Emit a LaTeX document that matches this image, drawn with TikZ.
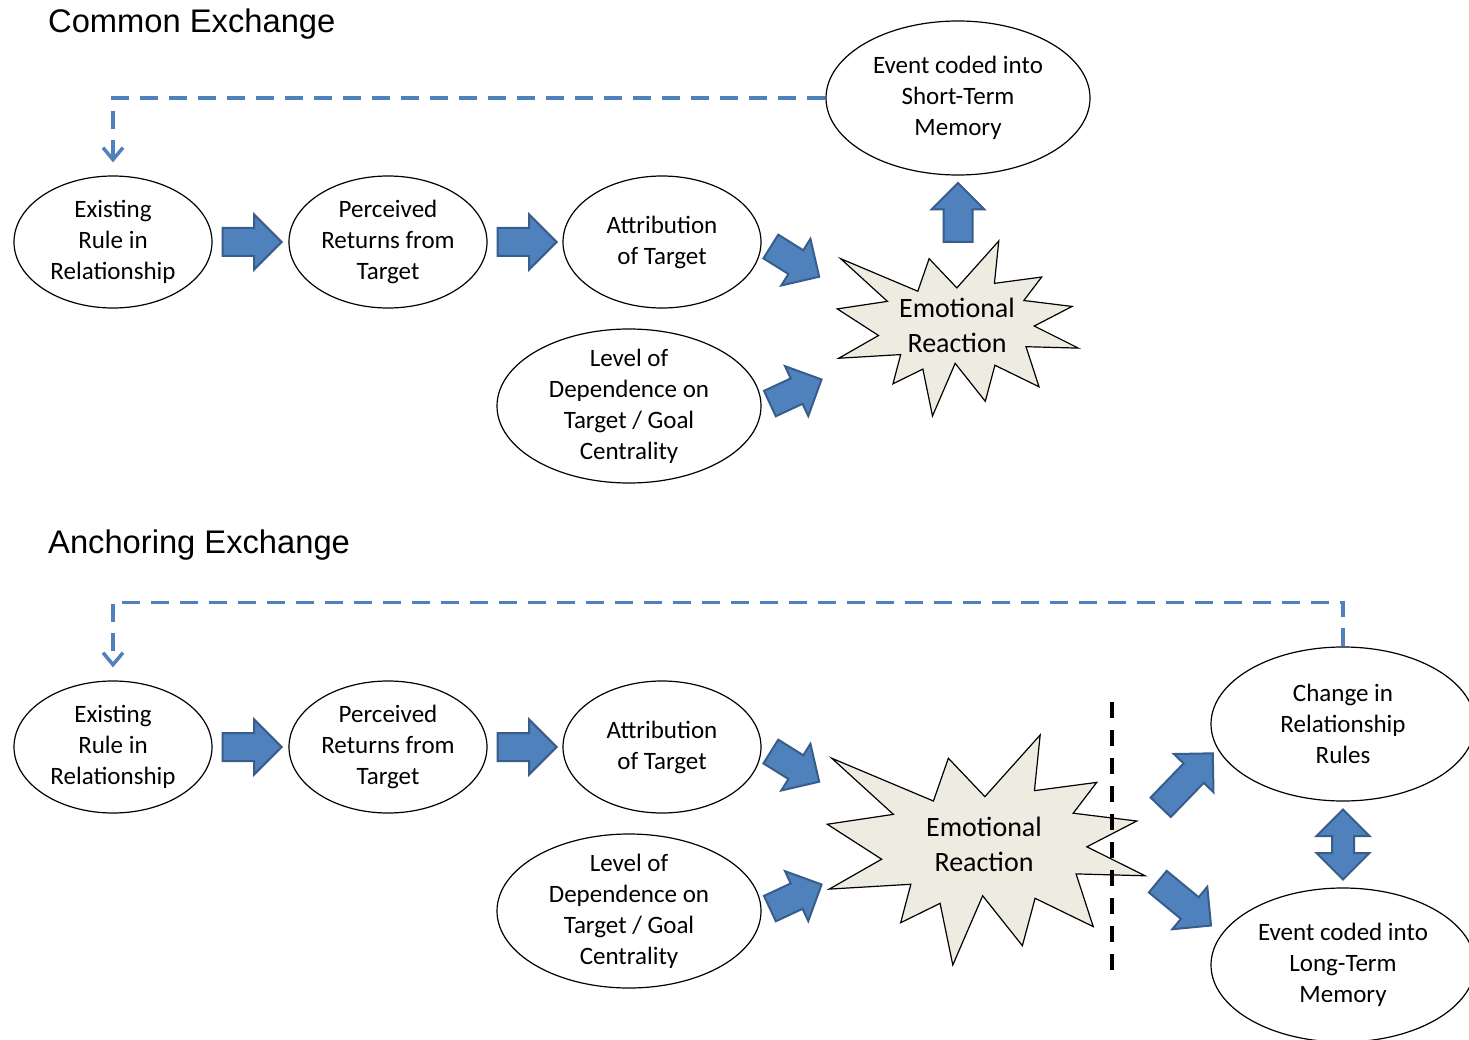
\documentclass[tikz,border=0pt]{standalone}
\usepackage{fontspec}
\setmainfont{Carlito}
\newfontfamily\headfont{Liberation Sans}
\usetikzlibrary{shapes.geometric,shapes.arrows,arrows.meta,calc}

\definecolor{arrowblue}{HTML}{4F81BD}
\definecolor{arrowedge}{HTML}{385D8A}
\definecolor{burstfill}{HTML}{EEECE1}

% outline of the explosion, in a unit box
\def\burstpts{(0.014,0.101) -- (0.334,0.287) -- (0.381,0.101) -- (0.496,0.268)
  -- (0.670,0) -- (0.652,0.242) -- (0.848,0.206) -- (0.774,0.340)
  -- (0.974,0.374) -- (0.817,0.486) -- (1,0.612) -- (0.783,0.604)
  -- (0.837,0.833) -- (0.654,0.710) -- (0.614,0.916) -- (0.489,0.699)
  -- (0.395,1) -- (0.355,0.732) -- (0.231,0.816) -- (0.263,0.649)
  -- (0.006,0.670) -- (0.171,0.540) -- (0,0.388) -- (0.208,0.345) -- cycle}

\tikzset{
  bubble/.style={ellipse, draw, line width=1.2pt, inner sep=0pt, align=center,
    minimum width=198pt, minimum height=132pt, font=\fontsize{25}{31}\selectfont},
  wide bubble/.style={bubble, minimum width=264pt, minimum height=154pt},
  blockarrow/.style={single arrow, draw=arrowedge, fill=arrowblue, line width=2pt,
    inner xsep=0pt, inner ysep=13pt, minimum height=59pt,
    single arrow head extend=13.5pt, anchor=tail},
  burst/.style={draw, fill=burstfill, line width=1.2pt, line join=miter},
  burst text/.style={align=center, font=\fontsize{28}{35}\selectfont},
  heading/.style={anchor=base west, inner sep=0pt, font=\headfont\fontsize{32.7}{38}\selectfont},
  feedback/.style={draw=arrowblue, line width=3.5pt, dash pattern=on 18pt off 11pt,
    -{Straight Barb[length=12pt,width=20pt]}, shorten >=13pt},
  cutline/.style={line width=4pt, dash pattern=on 16pt off 12pt},
}

\begin{document}
\begin{tikzpicture}[x=1pt, y=-1pt]
    \useasboundingbox (0,0) rectangle (1469,1040);

    % common exchange
    \node[heading] (title1) at (48,33) {Common Exchange};

    \node[bubble] (rule1) at (113,242) {Existing\\Rule in\\Relationship};
    \node[bubble] (ret1) at (388,242) {Perceived\\Returns from\\Target};
    \node[bubble] (attr1) at (662,242) {Attribution\\of Target};
    \node[wide bubble, inner ysep=-3pt] (dep1) at (629,406) {Level of\\Dependence on\\Target / Goal\\Centrality};
    \node[wide bubble] (stm) at (958,98) {Event coded into\\Short-Term\\Memory};

    \begin{scope}[shift={(837.3,241)}, xscale=241, yscale=175]
        \draw[burst] \burstpts;
    \end{scope}
    \node[burst text] (emo1) at (957,325) {Emotional\\Reaction};

    \node[blockarrow] (ar1) at ($(rule1.east)+(9,0)$) {};
    \node[blockarrow] (ar2) at ($(ret1.east)+(9,0)$) {};
    \node[blockarrow, minimum height=57pt, rotate=-32] (ar3) at (770,246) {};
    \node[blockarrow, minimum height=57pt, rotate=25] (ar4) at (769,404) {};
    \node[blockarrow, inner ysep=13.5pt, single arrow head extend=12pt, rotate=90] (ar5) at (958,243) {};

    \draw[feedback] (stm.west) -| (rule1.north);

    % anchoring exchange
    \node[heading] (title2) at (48,553) {Anchoring Exchange};

    \node[bubble] (rule2) at (113,747) {Existing\\Rule in\\Relationship};
    \node[bubble] (ret2) at (388,747) {Perceived\\Returns from\\Target};
    \node[bubble] (attr2) at (662,747) {Attribution\\of Target};
    \node[wide bubble, inner ysep=-3pt] (dep2) at (629,911) {Level of\\Dependence on\\Target / Goal\\Centrality};
    \node[wide bubble] (change) at (1343,724) {Change in\\Relationship\\Rules};
    \node[wide bubble] (ltm) at (1343,965) {Event coded into\\Long-Term\\Memory};

    \begin{scope}[shift={(827.3,735)}, xscale=317.7, yscale=230]
        \draw[burst] \burstpts;
    \end{scope}
    \node[burst text] (emo2) at (984,844) {Emotional\\Reaction};

    \node[blockarrow] (ar6) at ($(rule2.east)+(9,0)$) {};
    \node[blockarrow] (ar7) at ($(ret2.east)+(9,0)$) {};
    \node[blockarrow, minimum height=57pt, rotate=-32] (ar8) at (770,751) {};
    \node[blockarrow, minimum height=57pt, rotate=25] (ar9) at (769,909) {};
    \node[blockarrow, minimum height=75pt, rotate=46] (ar10) at (1160,808) {};
    \node[blockarrow, minimum height=69pt, rotate=-39.5] (ar11) at (1157,881) {};
    \node[double arrow, draw=arrowedge, fill=arrowblue, line width=2pt, inner xsep=0pt,
      inner ysep=10pt, minimum height=70pt, double arrow head extend=15.5pt,
      rotate=90] (ar12) at ($(change.south)!0.5!(ltm.north)$) {};

    \draw[cutline] (1112,702) -- (1112,975);

    \draw[feedback] (change.north) -- ++(0,-44) -| (rule2.north);
\end{tikzpicture}
\end{document}
